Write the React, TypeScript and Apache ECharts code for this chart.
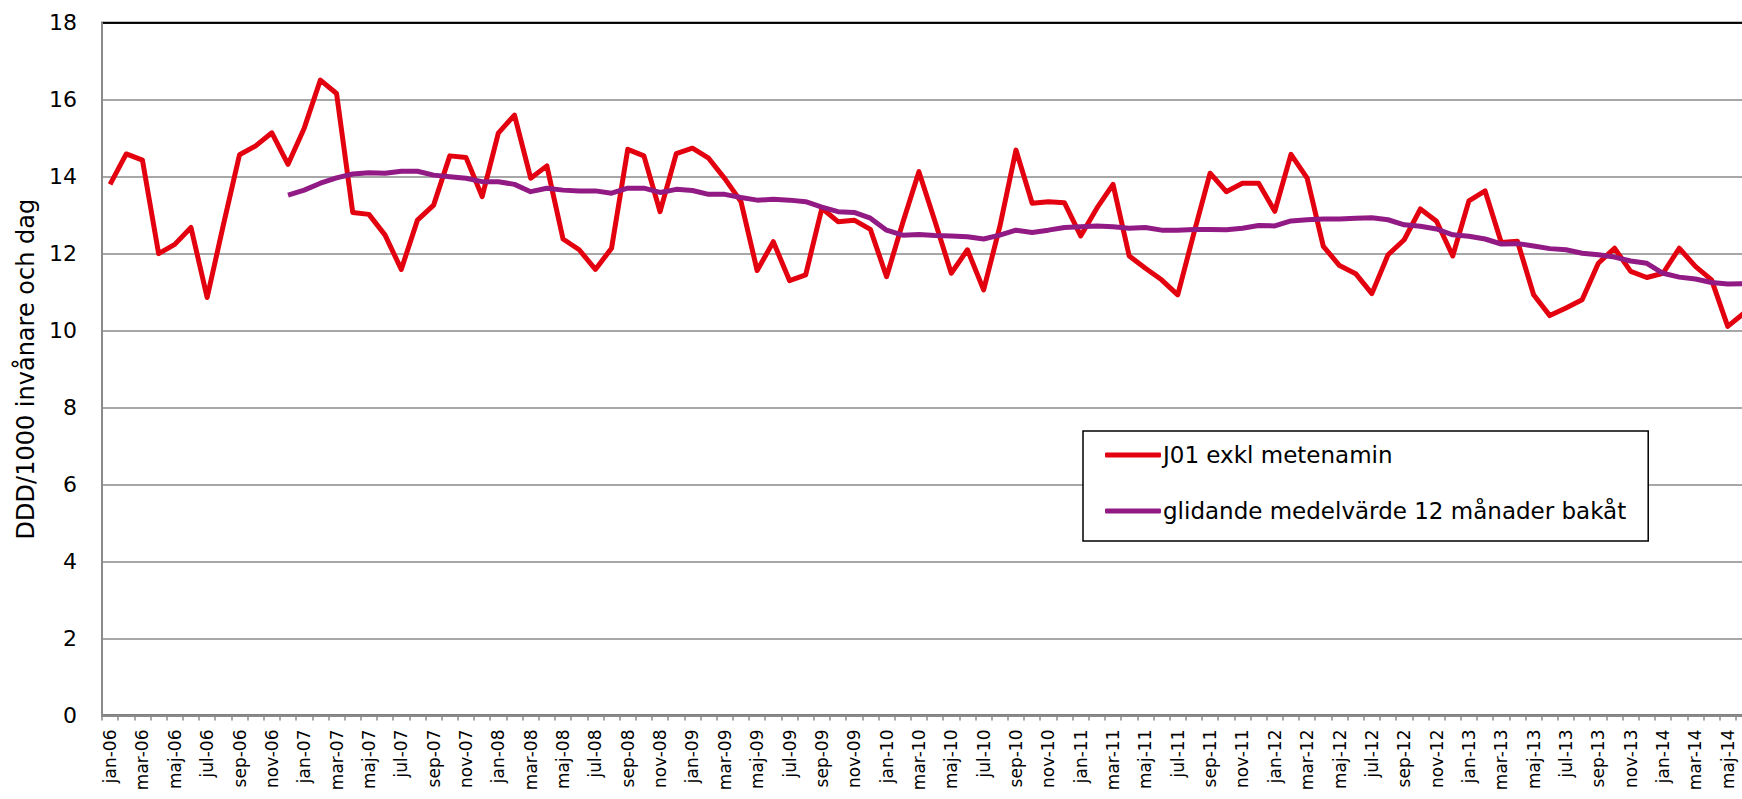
import React, { useEffect, useRef } from "react";
import * as echarts from "echarts";

const monthNames = ["jan", "feb", "mar", "apr", "maj", "jun", "jul", "aug", "sep", "okt", "nov", "dec"];
const years = ["06", "07", "08", "09", "10", "11", "12", "13", "14"];
const lastMonthIndex2014 = 5; // jun-14

const categories: string[] = [];
years.forEach((y, yi) => {
  monthNames.forEach((m, mi) => {
    if (yi === years.length - 1 && mi > lastMonthIndex2014) return;
    categories.push(`${m}-${y}`);
  });
});

const seriesNames = ["J01 exkl metenamin", "glidande medelvärde 12 månader bakåt"];

const j01Values = [
  13.8, 14.59, 14.43, 12.0, 12.24, 12.68, 10.86, 12.74, 14.57, 14.8, 15.14, 14.32,
  15.26, 16.51, 16.16, 13.07, 13.02, 12.48, 11.59, 12.87, 13.26, 14.54, 14.5, 13.48,
  15.13, 15.6, 13.96, 14.28, 12.38, 12.1, 11.59, 12.14, 14.71, 14.54, 13.09, 14.6,
  14.74, 14.48, 13.95, 13.35, 11.56, 12.31, 11.3, 11.45, 13.18, 12.83, 12.87, 12.63,
  11.4, 12.8, 14.13, 12.83, 11.49, 12.1, 11.06, 12.7, 14.69, 13.31, 13.35, 13.32,
  12.46, 13.18, 13.8, 11.94, 11.62, 11.32, 10.93, 12.53, 14.09, 13.61, 13.83, 13.83,
  13.1, 14.58, 13.96, 12.19, 11.69, 11.48, 10.96, 11.97, 12.36, 13.16, 12.84, 11.94,
  13.37, 13.63, 12.29, 12.32, 10.93, 10.39, 10.59, 10.8, 11.75, 12.14, 11.54, 11.38,
  11.49, 12.14, 11.67, 11.32, 10.11, 10.45,
];

const movingAvgValues = [
  null, null, null, null, null, null, null, null, null, null, null, 13.52,
  13.65, 13.83, 13.97, 14.07, 14.1, 14.09, 14.14, 14.14, 14.04, 14.0, 13.96, 13.87,
  13.87, 13.8, 13.61, 13.7, 13.65, 13.63, 13.63, 13.57, 13.7, 13.7, 13.59, 13.67,
  13.64, 13.54, 13.54, 13.46, 13.39, 13.41, 13.39, 13.35, 13.21, 13.09, 13.07, 12.92,
  12.61, 12.48, 12.5, 12.47, 12.46, 12.44, 12.38, 12.48, 12.61, 12.55, 12.61, 12.68,
  12.7, 12.72, 12.7, 12.66, 12.68, 12.61, 12.61, 12.63, 12.63, 12.62, 12.66, 12.73,
  12.72, 12.85, 12.88, 12.9, 12.9, 12.92, 12.93, 12.88, 12.75, 12.71, 12.64, 12.49,
  12.45, 12.38, 12.25, 12.26, 12.2, 12.13, 12.1, 12.01, 11.97, 11.91, 11.81, 11.75,
  11.49, 11.39, 11.34, 11.25, 11.21, 11.22,
];

const yMin = 0;
const yMax = 18;
const yInterval = 2;
const yAxisName = "DDD/1000 invånare och dag";

const FONT = "'DejaVu Sans', Verdana, sans-serif";

export default function App() {
  const ref = useRef<HTMLDivElement>(null);

  useEffect(() => {
    if (!ref.current) return;
    const chart = echarts.init(ref.current, null, { renderer: "svg" });
    const gridLineColors = ["#8a8a8a", "#8a8a8a", "#8a8a8a", "#8a8a8a", "#8a8a8a", "#8a8a8a", "#8a8a8a", "#8a8a8a", "#8a8a8a", "#000000"];
    chart.setOption({
      animation: false,
      backgroundColor: "#ffffff",
      textStyle: { fontFamily: FONT, color: "#000" },
      grid: {
        left: 102,
        top: 22.7,
        width: 1650,
        height: 692.8,
        containLabel: false,
        outerBoundsMode: "none",
        show: true,
        borderColor: "#000",
        borderWidth: 2,
        backgroundColor: "transparent",
      },
      legend: {
        orient: "vertical",
        left: 1083,
        top: 431,
        padding: [11, 22, 17, 22],
        itemGap: 30,
        itemWidth: 56,
        itemHeight: 5,
        icon: "roundRect",
        borderColor: "#000",
        borderWidth: 1.5,
        backgroundColor: "#fff",
        textStyle: { fontFamily: FONT, fontSize: 23, color: "#000", lineHeight: 26, padding: [0, 0, 0, -3] },
        data: seriesNames,
      },
      xAxis: {
        type: "category",
        data: categories,
        boundaryGap: true,
        axisLine: { show: true, lineStyle: { color: "#8a8a8a", width: 2 } },
        axisTick: { show: true, interval: 0, length: 5, lineStyle: { color: "#8a8a8a", width: 1.5 } },
        axisLabel: {
          interval: 1,
          rotate: 90,
          margin: 14,
          fontFamily: FONT,
          fontSize: 17,
          color: "#000",
        },
        splitLine: { show: false },
      },
      yAxis: {
        type: "value",
        min: yMin,
        max: yMax,
        interval: yInterval,
        name: yAxisName,
        nameLocation: "middle",
        nameGap: 64,
        nameTextStyle: { fontFamily: FONT, fontSize: 24, color: "#000" },
        axisLine: { show: true, lineStyle: { color: "#8a8a8a", width: 2 } },
        axisTick: { show: false },
        axisLabel: { margin: 25, fontFamily: FONT, fontSize: 22, color: "#000" },
        splitLine: { show: true, lineStyle: { color: gridLineColors, width: 1.5 } },
      },
      series: [
        {
          name: seriesNames[0],
          type: "line",
          data: j01Values,
          symbol: "none",
          color: "#E3000F",
          lineStyle: { color: "#E3000F", width: 5, join: "round" },
          z: 3,
        },
        {
          name: seriesNames[1],
          type: "line",
          data: movingAvgValues,
          symbol: "none",
          connectNulls: false,
          color: "#921A85",
          lineStyle: { color: "#921A85", width: 5, join: "round" },
          z: 4,
        },
      ],
    });
    return () => chart.dispose();
  }, []);

  return (
    <div
      ref={ref}
      style={{ position: "fixed", left: 0, top: 0, width: 1742, height: 799, overflow: "hidden" }}
    />
  );
}
